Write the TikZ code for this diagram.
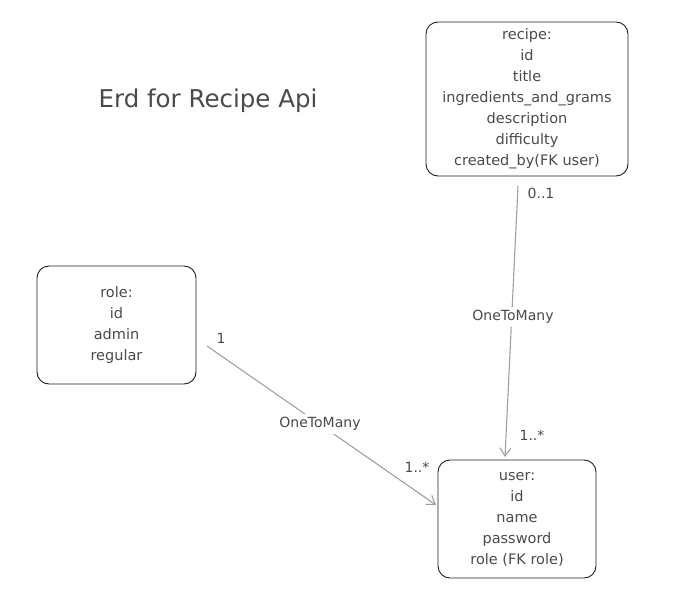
\documentclass[tikz,border=0pt]{standalone}
\usepackage{fontspec}
\setmainfont{DejaVu Sans}
\usetikzlibrary{arrows.meta}
\definecolor{ink}{HTML}{1E1E1E}
\definecolor{txt}{HTML}{4A4A4A}
\definecolor{wire}{HTML}{A0A0A0}
\tikzset{
	entity/.style={draw=ink, line width=0.9pt, rounded corners=12pt, align=center, text=txt,
		font=\fontsize{14.5}{21}\selectfont, inner sep=0pt},
	rel/.style={wire, line width=1.1pt, -{Straight Barb[length=8pt,width=11pt]}},
	card/.style={text=txt, font=\fontsize{14}{16}\selectfont, inner sep=1pt},
	relname/.style={card, fill=white, inner sep=3pt}
}
\begin{document}
\begin{tikzpicture}[x=1pt,y=-1pt]
	\useasboundingbox (0,0) rectangle (693,596);

	\node[text=txt, font=\fontsize{24.5}{26}\selectfont] (title) at (208,101) {Erd for Recipe Api};

	\node[entity, minimum width=202pt, minimum height=154pt] (recipe) at (527,99)
		{recipe:\\id\\title\\ingredients\_and\_grams\\description\\difficulty\\created\_by(FK user)};
	\node[entity, minimum width=159pt, minimum height=118pt] (role) at (116.5,325)
		{role:\\id\\admin\\regular};
	\node[entity, minimum width=158pt, minimum height=118pt] (user) at (517,519)
		{user:\\id\\name\\password\\role (FK role)};

	% role -> user
	\coordinate (roleout) at (207,346);
	\coordinate (userin1) at (436,505);
	\draw[rel] (roleout) -- (userin1);
	\node[relname] (rel1) at (320,424) {OneToMany};
	\node[card] (one) at (221,338) {1};
	\node[card] (many1) at (417,467) {1..*};

	% recipe -> user
	\coordinate (recipeout) at (518,186);
	\coordinate (userin2) at (505,457);
	\draw[rel] (recipeout) -- (userin2);
	\node[relname] (rel2) at (513,317) {OneToMany};
	\node[card] (zeroone) at (541,193) {0..1};
	\node[card] (many2) at (532,435) {1..*};
\end{tikzpicture}
\end{document}
